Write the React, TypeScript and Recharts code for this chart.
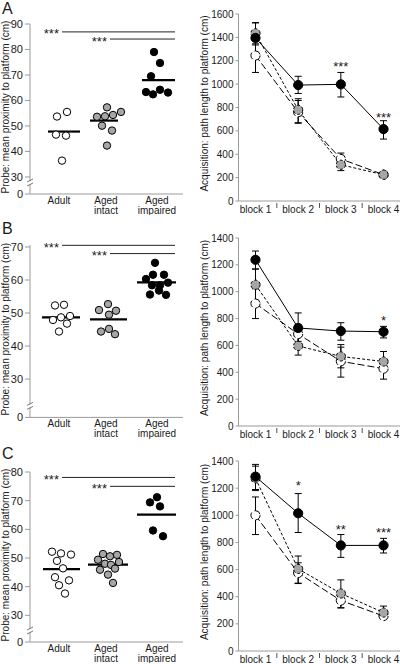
import React from 'react';
import { ComposedChart, Scatter, Line, XAxis, YAxis, ReferenceLine, ErrorBar, Label } from 'recharts';

const FONT = '"Liberation Sans", Arial, sans-serif';
const TEXT = '#1a1a1a';
const AXIS = '#9a9a9a';
const GRAY = '#a6a6a6';

// ---------- Probe (left) panels ----------
const groupLabels = ['Adult', 'Aged\nintact', 'Aged\nimpaired'];
const groupLabelX = [29, 76, 127];

const probeA_adult = [
  { x: 27, y: 53.7 }, { x: 37, y: 55.5 }, { x: 26, y: 46.6 }, { x: 36, y: 46.2 }, { x: 32, y: 36.4 },
];
const probeA_intact = [
  { x: 67, y: 53.6 }, { x: 77, y: 57.3 }, { x: 75, y: 53.8 }, { x: 83, y: 54.3 }, { x: 91, y: 55.5 },
  { x: 72, y: 50.1 }, { x: 82, y: 48.2 }, { x: 77, y: 42.3 },
];
const probeA_impaired = [
  { x: 124, y: 79.0 }, { x: 130, y: 74.7 }, { x: 121, y: 69.5 }, { x: 116, y: 63.3 }, { x: 123, y: 62.4 },
  { x: 130, y: 64.2 }, { x: 138, y: 63.1 },
];
const probeA_means = [47.8, 52.1, 68.0];
const probeA_meanSpans = [[18, 50], [60, 88], [112, 145]];
const probeA_sig = [{ x1: 32, x2: 145, y: 86.9, label: '***' }, { x1: 80, x2: 145, y: 84.1, label: '***' }];
const probeA_ticks = [30, 40, 50, 60, 70, 80, 90];

const probeB_adult = [
  { x: 25, y: 52.3 }, { x: 34, y: 52.5 }, { x: 23, y: 47.9 }, { x: 31, y: 48.7 }, { x: 40, y: 49.1 },
  { x: 37, y: 46.8 }, { x: 29, y: 44.4 },
];
const probeB_intact = [
  { x: 69, y: 50.9 }, { x: 78, y: 52.7 }, { x: 86, y: 50.7 }, { x: 79, y: 49.5 }, { x: 71, y: 44.4 },
  { x: 79, y: 45.2 }, { x: 85, y: 43.6 },
];
const probeB_impaired = [
  { x: 125, y: 65.2 }, { x: 116, y: 60.3 }, { x: 123, y: 61.6 }, { x: 134, y: 61.6 }, { x: 122, y: 58.4 },
  { x: 130, y: 58.4 }, { x: 138, y: 59.2 }, { x: 120, y: 55.6 }, { x: 129, y: 56.8 }, { x: 136, y: 55.5 },
];
const probeB_means = [48.7, 48.1, 59.3];
const probeB_meanSpans = [[12, 50], [60, 97], [107, 146]];
const probeB_sig = [{ x1: 32, x2: 145, y: 70.5, label: '***' }, { x1: 80, x2: 145, y: 68.0, label: '***' }];
const probeB_ticks = [30, 40, 50, 60, 70];

const probeC_adult = [
  { x: 22, y: 52.2 }, { x: 31, y: 51.6 }, { x: 41, y: 51.2 }, { x: 27, y: 49.0 }, { x: 33, y: 46.4 },
  { x: 25, y: 43.3 }, { x: 39, y: 42.2 }, { x: 29, y: 40.5 }, { x: 35, y: 37.6 },
];
const probeC_intact = [
  { x: 68, y: 49.4 }, { x: 73, y: 51.4 }, { x: 80, y: 50.6 }, { x: 87, y: 51.1 }, { x: 89, y: 48.6 },
  { x: 75, y: 48.0 }, { x: 81, y: 47.6 }, { x: 85, y: 46.3 }, { x: 70, y: 45.9 }, { x: 78, y: 44.2 },
  { x: 83, y: 41.3 },
];
const probeC_impaired = [
  { x: 127, y: 71.2 }, { x: 120, y: 69.4 }, { x: 130, y: 68.0 }, { x: 123, y: 59.6 }, { x: 133, y: 57.6 },
];
const probeC_means = [46.1, 47.7, 65.1];
const probeC_meanSpans = [[13, 50], [58, 98], [107, 146]];
const probeC_sig = [{ x1: 32, x2: 145, y: 78.1, label: '***' }, { x1: 80, x2: 145, y: 75.0, label: '***' }];
const probeC_ticks = [30, 40, 50, 60, 70, 80];

// ---------- Acquisition (right) panels ----------
const blocks = [1, 2, 3, 4];

const acqA_adult = [1245, 760, 360, 225];
const acqA_adultErr = [[145, 150], [90, 100], [50, 50], [20, 20]];
const acqA_intact = [1435, 780, 310, 225];
const acqA_intactErr = [[90, 90], [115, 95], [50, 50], [20, 20]];
const acqA_impaired = [1395, 992, 998, 615];
const acqA_impairedErr = [[60, 130], [72, 75], [108, 102], [85, 72]];
const acqA_sig = [{ x: 3, y: 1166, label: '***' }, { x: 4, y: 732, label: '***' }];
const acqA_ticks = [0, 200, 400, 600, 800, 1000, 1200, 1400, 1600];

const acqB_adult = [912, 685, 482, 427];
const acqB_adultErr = [[112, 110], [70, 70], [118, 105], [78, 75]];
const acqB_intact = [1052, 596, 518, 480];
const acqB_intactErr = [[120, 118], [68, 70], [85, 88], [70, 75]];
const acqB_impaired = [1238, 730, 707, 702];
const acqB_impairedErr = [[70, 65], [100, 112], [68, 62], [46, 40]];
const acqB_sig = [{ x: 4, y: 804, label: '*' }];
const acqB_ticks = [0, 200, 400, 600, 800, 1000, 1200, 1400];

const acqC_adult = [1000, 575, 372, 258];
const acqC_adultErr = [[142, 135], [78, 75], [55, 55], [25, 25]];
const acqC_intact = [1272, 605, 424, 283];
const acqC_intactErr = [[90, 90], [105, 95], [105, 100], [45, 48]];
const acqC_impaired = [1285, 1015, 778, 778];
const acqC_impairedErr = [[95, 90], [142, 145], [88, 80], [56, 52]];
const acqC_sig = [{ x: 2, y: 1234, label: '*' }, { x: 3, y: 910, label: '**' }, { x: 4, y: 885, label: '***' }];
const acqC_ticks = [0, 200, 400, 600, 800, 1000, 1200, 1400];

const buildRows = (a: number[], ae: number[][], i: number[], ie: number[][], m: number[], me: number[][]) =>
  blocks.map((b, k) => ({
    x: b,
    adult: a[k], adultErr: ae[k],
    intact: i[k], intactErr: ie[k],
    impaired: m[k], impairedErr: me[k],
  }));

// ---------- shared renderers ----------
const circleShape = (fill: string, r: number) => (p: any) => (
  <circle cx={p.cx} cy={p.cy} r={r} fill={fill} stroke="#000" strokeWidth={1} />
);

const leftStarShape = (p: any) => (
  <text x={p.cx - 3} y={p.cy + 6.5} textAnchor="end" fontSize={13} fill={TEXT}>{p.payload.label}</text>
);
const centerStarShape = (p: any) => (
  <text x={p.cx} y={p.cy + 6.5} textAnchor="middle" fontSize={13} fill={TEXT}>{p.payload.label}</text>
);

const ProbeYTick = (props: any) => {
  const { x, y, payload, breakAt } = props;
  const v = payload.value;
  const isBreak = Math.abs(v - breakAt) < 1e-6;
  const ax = x + 7;
  const by = y - 11.5;
  return (
    <g>
      <text x={x} y={y} dy="0.355em" textAnchor="end" fontSize={11} fill={TEXT}>{isBreak ? '0' : v}</text>
      {isBreak && (
        <g>
          <rect x={ax - 4} y={by - 1.5} width={8} height={3} fill="#fff" />
          <line x1={ax - 3} y1={by - 0.5} x2={ax + 3} y2={by - 3.5} stroke="#777" strokeWidth={1} />
          <line x1={ax - 3} y1={by + 3.5} x2={ax + 3} y2={by + 0.5} stroke="#777" strokeWidth={1} />
        </g>
      )}
    </g>
  );
};

const ProbeXTick = (props: any) => {
  const { x, y, payload } = props;
  const idx = groupLabelX.indexOf(payload.value);
  const lines = idx >= 0 ? groupLabels[idx].split('\n') : [];
  return (
    <g>
      {lines.map((t, k) => (
        <text key={k} x={x} y={y + 10 + k * 9.5} textAnchor="middle" fontSize={10} fill={TEXT}>{t}</text>
      ))}
    </g>
  );
};

const BlockTick = (props: any) => {
  const { x, y, payload } = props;
  const v = payload.value;
  if (Number.isInteger(v)) {
    return <text x={x} y={y + 12} textAnchor="middle" fontSize={10} fill={TEXT}>{`block ${v}`}</text>;
  }
  return <line x1={x} x2={x} y1={y + 2} y2={y + 7} stroke="#555" strokeWidth={1} />;
};

const yTitle = (text: string, dxFromLeft: number, shift: number) => (p: any) => {
  const vb = p.viewBox;
  const cx = vb.x + dxFromLeft;
  const cy = vb.y + vb.height / 2 + shift;
  return (
    <text x={cx} y={cy} dy="0.355em" textAnchor="middle" fontSize={10} fill={TEXT}
      transform={`rotate(-90 ${cx} ${cy})`}>{text}</text>
  );
};

// ---------- panels ----------
type ProbeProps = {
  top: number; plotHeight: number; domain: [number, number]; ticks: number[];
  adult: any[]; intact: any[]; impaired: any[]; means: number[]; spans: number[][]; sig: any[];
};

const ProbePanel = ({ top, plotHeight, domain, ticks, adult, intact, impaired, means, spans, sig }: ProbeProps) => {
  const mt = 10;
  const xh = 21;
  const breakAt = domain[0];
  return (
    <div style={{ position: 'absolute', left: 0, top: top - mt }}>
      <ComposedChart width={200} height={mt + plotHeight + xh} margin={{ top: mt, right: 17, left: 0, bottom: 0 }}>
        <XAxis type="number" dataKey="x" domain={[0, 153]} ticks={groupLabelX} interval={0}
          stroke={AXIS} tickLine={false} tickSize={0} tickMargin={0} height={xh}
          tick={<ProbeXTick />} />
        <YAxis type="number" domain={domain} ticks={[breakAt, ...ticks]} interval={0}
          width={30} stroke={AXIS} tickSize={5} tickMargin={2}
          tick={(p: any) => <ProbeYTick {...p} breakAt={breakAt} />}>
          <Label content={yTitle('Probe: mean proximity to platform (cm)', 5, -2)} />
        </YAxis>
        {sig.map((s, k) => (
          <ReferenceLine key={'s' + k} segment={[{ x: s.x1, y: s.y }, { x: s.x2, y: s.y }]}
            stroke="#222" strokeWidth={1} ifOverflow="visible" />
        ))}
        {means.map((m, k) => (
          <ReferenceLine key={'m' + k} segment={[{ x: spans[k][0], y: m }, { x: spans[k][1], y: m }]}
            stroke="#000" strokeWidth={2.2} ifOverflow="visible" />
        ))}
        <Scatter data={adult} dataKey="y" shape={circleShape('#fff', 3.7)} isAnimationActive={false} />
        <Scatter data={intact} dataKey="y" shape={circleShape(GRAY, 3.7)} isAnimationActive={false} />
        <Scatter data={impaired} dataKey="y" shape={circleShape('#000', 3.7)} isAnimationActive={false} />
        <Scatter data={sig.map((s) => ({ x: s.x1, y: s.y, label: s.label }))} dataKey="y"
          shape={leftStarShape} isAnimationActive={false} />
      </ComposedChart>
    </div>
  );
};

type AcqProps = { top: number; plotHeight: number; max: number; ticks: number[]; rows: any[]; sig: any[]; xh: number };

const AcqPanel = ({ top, plotHeight, max, ticks, rows, sig, xh }: AcqProps) => {
  const mt = 10;
  return (
    <div style={{ position: 'absolute', left: 200, top: top - mt }}>
      <ComposedChart width={200} height={mt + plotHeight + xh} data={rows}
        margin={{ top: mt, right: 0, left: 0, bottom: 0 }}>
        <XAxis type="number" dataKey="x" domain={[0.602, 4.386]} ticks={[1, 1.5, 2, 2.5, 3, 3.5, 4]}
          interval={0} stroke={AXIS} tickLine={false} tickSize={0} tickMargin={0}
          height={xh} tick={<BlockTick />} />
        <YAxis type="number" domain={[0, max]} ticks={ticks} interval={0} width={38.5}
          stroke={AXIS} tickSize={3} tickMargin={2} tick={{ fontSize: 10, fill: TEXT }}>
          <Label content={yTitle('Acquisition: path length to platform (cm)', 4.5, -4)} />
        </YAxis>
        <Line type="linear" dataKey="adult" stroke="#000" strokeWidth={1} strokeDasharray="7 3"
          dot={{ r: 4.6, fill: '#fff', stroke: '#000', strokeWidth: 1 }} activeDot={false} isAnimationActive={false}>
          <ErrorBar dataKey="adultErr" direction="y" width={3.5} stroke="#000" strokeWidth={1} />
        </Line>
        <Line type="linear" dataKey="intact" stroke="#000" strokeWidth={1} strokeDasharray="3 2"
          dot={{ r: 4.6, fill: GRAY, stroke: '#000', strokeWidth: 1 }} activeDot={false} isAnimationActive={false}>
          <ErrorBar dataKey="intactErr" direction="y" width={3.5} stroke="#000" strokeWidth={1} />
        </Line>
        <Line type="linear" dataKey="impaired" stroke="#000" strokeWidth={1}
          dot={{ r: 4.6, fill: '#000', stroke: '#000', strokeWidth: 1 }} activeDot={false} isAnimationActive={false}>
          <ErrorBar dataKey="impairedErr" direction="y" width={3.5} stroke="#000" strokeWidth={1} />
        </Line>
        <Scatter data={sig} dataKey="y" shape={centerStarShape} isAnimationActive={false} />
      </ComposedChart>
    </div>
  );
};

const Letter = ({ ch, top }: { ch: string; top: number }) => (
  <div style={{ position: 'absolute', left: 2, top, fontSize: 16, lineHeight: '16px', color: TEXT }}>{ch}</div>
);

export default function App() {
  return (
    <div style={{ position: 'absolute', left: 0, top: 0, width: 400, height: 664, background: '#fff',
      fontFamily: FONT, overflow: 'hidden' }}>
      <ProbePanel top={24} plotHeight={170} domain={[23.3, 90]} ticks={probeA_ticks}
        adult={probeA_adult} intact={probeA_intact} impaired={probeA_impaired}
        means={probeA_means} spans={probeA_meanSpans} sig={probeA_sig} />
      <ProbePanel top={245.3} plotHeight={172.4} domain={[18.4, 70.6]} ticks={probeB_ticks}
        adult={probeB_adult} intact={probeB_intact} impaired={probeB_impaired}
        means={probeB_means} spans={probeB_meanSpans} sig={probeB_sig} />
      <ProbePanel top={472.3} plotHeight={170} domain={[20.7, 80]} ticks={probeC_ticks}
        adult={probeC_adult} intact={probeC_intact} impaired={probeC_impaired}
        means={probeC_means} spans={probeC_meanSpans} sig={probeC_sig} />

      <AcqPanel top={14} plotHeight={187} max={1600} ticks={acqA_ticks} xh={20}
        rows={buildRows(acqA_adult, acqA_adultErr, acqA_intact, acqA_intactErr, acqA_impaired, acqA_impairedErr)}
        sig={acqA_sig} />
      <AcqPanel top={237.7} plotHeight={188} max={1400} ticks={acqB_ticks} xh={20}
        rows={buildRows(acqB_adult, acqB_adultErr, acqB_intact, acqB_intactErr, acqB_impaired, acqB_impairedErr)}
        sig={acqB_sig} />
      <AcqPanel top={460.7} plotHeight={190} max={1400} ticks={acqC_ticks} xh={13}
        rows={buildRows(acqC_adult, acqC_adultErr, acqC_intact, acqC_intactErr, acqC_impaired, acqC_impairedErr)}
        sig={acqC_sig} />

      <Letter ch="A" top={1} />
      <Letter ch="B" top={221} />
      <Letter ch="C" top={446} />
    </div>
  );
}
